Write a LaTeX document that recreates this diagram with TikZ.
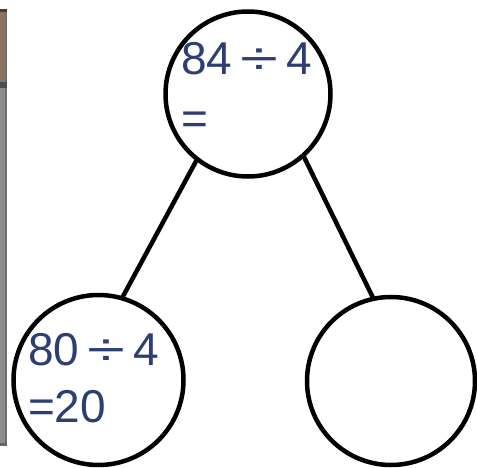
\documentclass[tikz,border=0pt]{standalone}
\usepackage{fontspec}
\setmainfont{Liberation Sans}
\usepackage{graphicx}
\definecolor{txt}{RGB}{45,62,115}
\definecolor{barbrown}{RGB}{140,115,96}
\definecolor{bargrey}{RGB}{140,140,140}
\definecolor{bardark}{RGB}{110,110,110}
\newcommand{\dv}{\hspace{8pt}\scalebox{1.5}[1]{÷}\hspace{8pt}}
\begin{document}
\begin{tikzpicture}[x=1pt,y=-1pt,
  bubble/.style={draw=black,line width=4.5pt,circle,inner sep=0pt,outer sep=0pt,fill=white},
  link/.style={draw=black,line width=4.5pt},
  eq/.style={anchor=base west,inner sep=0pt,outer sep=0pt,text=txt,font=\fontsize{46}{46}\selectfont}]
\useasboundingbox (0,0) rectangle (477,468);
% left bar
\fill[bargrey] (0,9) rectangle (7,446);
\fill[bardark] (5,9) rectangle (7,446);
\fill[barbrown] (0,12) rectangle (5,82);
\fill[black!75] (0,9) rectangle (7,12);
\fill[black!70] (0,82) rectangle (7,88);
\fill[black!60] (0,443) rectangle (7,446);
% circles
\node[bubble,minimum size=165pt] (top) at (248,94) {};
\node[bubble,minimum size=170pt] (bl) at (98.5,380) {};
\node[bubble,minimum size=168pt] (br) at (391,381) {};
% connectors
\draw[link] (top.232) -- (bl.74);
\draw[link] (top.-48) -- (br.102);
% texts
\node[eq] (t1) at (181,75) {84\dv 4};
\node[eq] (t2) at (181,135) {=};
\node[eq] (b1) at (28,365) {80\dv 4};
\node[eq] (b2) at (28,422) {=20};
\end{tikzpicture}
\end{document}
